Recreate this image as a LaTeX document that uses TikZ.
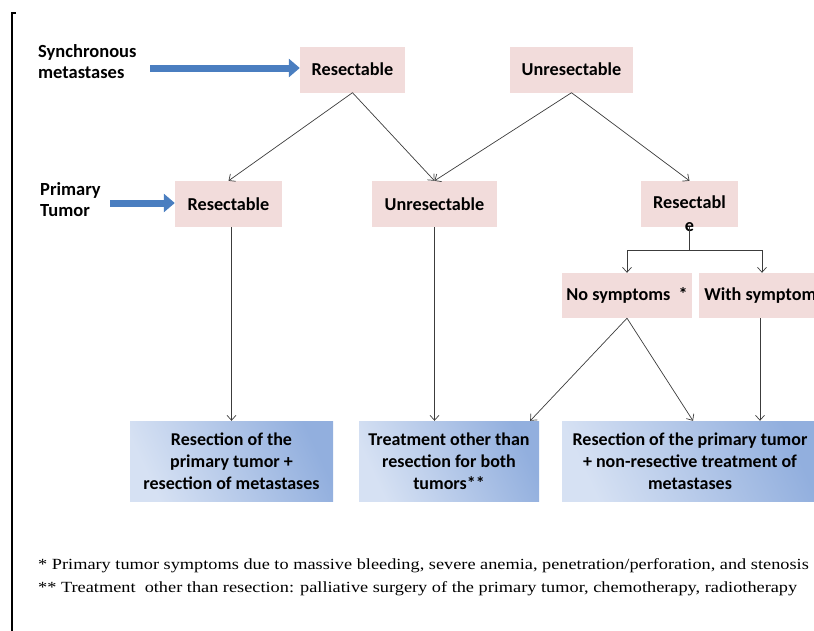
\documentclass[tikz,border=0pt]{standalone}
\usepackage{fontspec}
\setmainfont{Carlito}
\newfontfamily\notefont{Liberation Serif}
\usetikzlibrary{arrows.meta, positioning, calc}
\definecolor{pinkbox}{RGB}{242,220,219}
\definecolor{bluelight}{RGB}{214,225,243}
\definecolor{bluedark}{RGB}{146,175,222}
\definecolor{bluearrowc}{RGB}{74,126,192}
\definecolor{linegray}{RGB}{60,60,60}
\tikzset{
    choice/.style={fill=pinkbox, minimum height=46pt, inner sep=0pt, font=\bfseries\fontsize{18.2}{23}\selectfont},
    outcome/.style={left color=bluelight, right color=bluedark, shading angle=115, minimum height=80pt,
        inner sep=0pt, align=center, font=\bfseries\fontsize{18}{22}\selectfont},
    rowlabel/.style={align=left, inner sep=0pt, font=\bfseries\fontsize{18.5}{21}\selectfont},
    thinarrow/.style={draw=linegray, line width=0.7pt, -{Straight Barb[length=5pt, width=9pt]}},
    fatarrow/.style={draw=bluearrowc, line width=7pt, -{Triangle[length=11pt, width=18pt]}}
}

\begin{document}
\begin{tikzpicture}[x=1pt, y=-1pt]
    \useasboundingbox (0,0) rectangle (814,630);
    \clip (0,0) rectangle (814,630);
    \draw[line width=2pt] (16,13) -- (12,13) -- (12,640);

    % row labels
    \node[rowlabel, anchor=west] (sync) at (38,62) {Synchronous\\metastases};
    \node[rowlabel, anchor=west] (prim) at (40,200) {Primary\\Tumor};
    \coordinate (syncstart) at (150,68);
    \coordinate (primstart) at (110,203);

    % metastases
    \node[choice, minimum width=105pt] (mres) at (352.5,69.5) {Resectable};
    \node[choice, minimum width=123pt] (munres) at (571.5,69.5) {Unresectable};

    % primary tumor
    \node[choice, minimum width=107pt] (pres) at (228.5,204) {Resectable};
    \node[choice, minimum width=125pt] (punres) at (434.5,204) {Unresectable};
    \node[choice, minimum width=97pt] (pres2) at (689.5,204) {};
    \node[choice, fill=none, align=center, anchor=north, minimum height=0pt] (pres2text) at (689.5,196) {Resectabl\\e};

    \node[choice, minimum width=130pt, minimum height=45pt] (nosym) at (627,295.5) {No symptoms\ \ *};
    \node[choice, minimum width=130pt, minimum height=45pt] (withsym) at (764,295.5) {With symptoms};

    % treatments
    \node[outcome, minimum width=203pt] (resboth) at (231.5,461) {Resection of the\\primary tumor +\\resection of metastases};
    \node[outcome, minimum width=180pt] (other) at (449,461) {Treatment other than\\resection for both\\tumors**};
    \node[outcome, minimum width=256pt] (resnon) at (690,461) {Resection of the primary tumor\\+ non-resective treatment of\\metastases};

    % blue arrows
    \draw[fatarrow] (syncstart) -- (syncstart -| mres.west);
    \draw[fatarrow] (primstart) -- (primstart -| pres.west);

    % branches
    \draw[thinarrow] (mres.south) -- (pres.north);
    \draw[thinarrow] (mres.south) -- (punres.north);
    \draw[thinarrow] (munres.south) -- (punres.north);
    \draw[thinarrow] (munres.south) -- (pres2.north);

    \draw[draw=linegray, line width=0.7pt] (pres2.south) -- ++(0,23) coordinate (fork);
    \draw[thinarrow] (fork) -| (nosym.north);
    \draw[thinarrow] (fork) -| ([xshift=-2pt]withsym.north);

    \draw[thinarrow] (resboth.north |- pres.south) -- (resboth.north);
    \draw[thinarrow] (punres.south) -- (punres.south |- other.north);
    \draw[thinarrow] (nosym.south) -- ([xshift=-9pt]other.north east);
    \draw[thinarrow] (nosym.south) -- ([xshift=3pt]resnon.north);
    \draw[thinarrow] ([xshift=-4pt]withsym.south) -- ([xshift=-4pt]withsym.south |- resnon.north);

    % footnotes
    \node[anchor=west, align=left, inner sep=0pt, font=\notefont\fontsize{15.5}{23}\selectfont, xscale=1.18] (notes) at (38,577)
        {* Primary tumor symptoms due to massive bleeding, severe anemia, penetration/perforation, and stenosis\\
         ** Treatment\ \ other than resection: palliative surgery\ of the primary tumor, chemotherapy, radiotherapy};
\end{tikzpicture}
\end{document}
